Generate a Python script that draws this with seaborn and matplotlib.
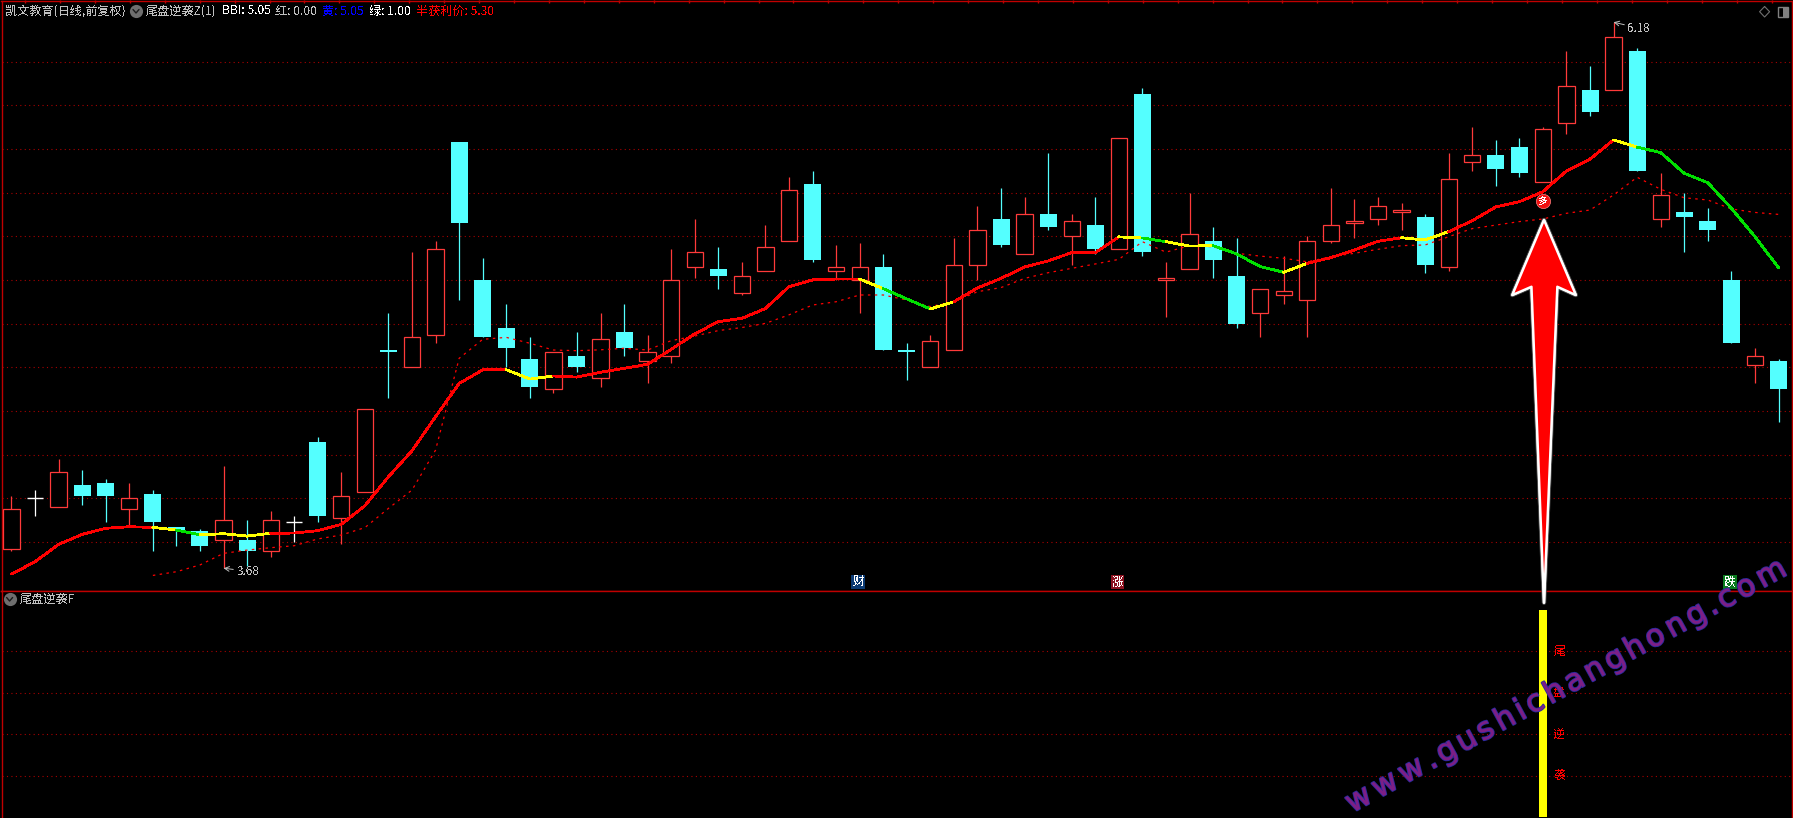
import numpy as np
import pandas as pd
import matplotlib
matplotlib.use('Agg')
import matplotlib.pyplot as plt
import matplotlib.patheffects as pe
from matplotlib.font_manager import FontProperties
from matplotlib.textpath import TextPath
import seaborn as sns

# daily prices, one entry per candle
opens = [3.77, 4.00, 3.96, 4.06, 4.07, 3.95, 4.02, 3.87, 3.85, 3.81, 3.81, 3.76, 3.89, 4.26, 3.91, 4.03, 4.68, 4.60, 4.75,
         5.63, 5.00, 4.78, 4.64, 4.50, 4.65, 4.55, 4.76, 4.63, 4.65, 5.06, 5.05, 4.94, 5.04, 5.18, 5.44, 5.04, 5.00, 5.06,
         4.68, 4.60, 4.68, 5.07, 5.28, 5.12, 5.30, 5.20, 5.25, 5.14, 5.85, 5.00, 5.05, 5.18, 5.02, 4.85, 4.93, 4.91, 5.18,
         5.26, 5.28, 5.31, 5.29, 5.06, 5.54, 5.57, 5.61, 5.45, 5.72, 5.87, 5.87, 6.05, 5.28, 5.31, 5.27, 5.00, 4.61, 4.63]
highs = [4.01, 4.04, 4.18, 4.13, 4.09, 4.07, 4.04, 3.87, 3.86, 4.15, 3.90, 3.94, 3.92, 4.28, 4.12, 4.41, 4.85, 5.13, 5.18,
         5.63, 5.10, 4.89, 4.74, 4.67, 4.76, 4.85, 4.89, 4.75, 5.14, 5.28, 5.15, 5.08, 5.25, 5.47, 5.50, 5.16, 5.17, 5.12,
         4.71, 4.75, 5.19, 5.34, 5.42, 5.38, 5.58, 5.30, 5.38, 5.65, 5.88, 5.08, 5.40, 5.24, 5.19, 4.96, 5.11, 5.20, 5.42,
         5.37, 5.38, 5.35, 5.30, 5.58, 5.70, 5.64, 5.65, 5.70, 6.05, 5.98, 6.18, 6.06, 5.49, 5.40, 5.33, 5.04, 4.69, 4.64]
lows = [3.76, 3.92, 3.96, 3.97, 3.89, 3.87, 3.76, 3.78, 3.76, 3.68, 3.69, 3.73, 3.80, 3.89, 3.79, 4.03, 4.46, 4.60, 4.71,
        4.91, 4.74, 4.60, 4.46, 4.48, 4.58, 4.51, 4.65, 4.53, 4.62, 5.01, 4.96, 4.93, 5.04, 5.18, 5.08, 5.00, 4.85, 4.68,
        4.54, 4.60, 4.68, 5.00, 5.15, 5.12, 5.23, 5.07, 5.12, 5.14, 5.11, 4.83, 5.05, 5.01, 4.78, 4.74, 4.89, 4.74, 5.17,
        5.19, 5.25, 5.23, 5.03, 5.04, 5.50, 5.43, 5.47, 5.45, 5.67, 5.75, 5.87, 5.50, 5.24, 5.13, 5.18, 4.71, 4.53, 4.35]
closes = [3.95, 4.00, 4.12, 4.01, 4.01, 4.00, 3.89, 3.85, 3.78, 3.90, 3.76, 3.90, 3.89, 3.92, 4.01, 4.41, 4.67, 4.74, 5.14,
          5.26, 4.74, 4.69, 4.51, 4.67, 4.60, 4.73, 4.69, 4.67, 5.00, 5.13, 5.02, 5.02, 5.15, 5.41, 5.09, 5.06, 5.06, 4.68,
          4.67, 4.72, 5.07, 5.23, 5.16, 5.30, 5.24, 5.27, 5.14, 5.65, 5.13, 5.01, 5.21, 5.09, 4.80, 4.96, 4.95, 5.18, 5.25,
          5.27, 5.34, 5.32, 5.07, 5.46, 5.57, 5.51, 5.49, 5.69, 5.89, 5.77, 6.11, 5.50, 5.39, 5.29, 5.23, 4.71, 4.65, 4.50]

# thick BBI line
bbi = [3.653, 3.710, 3.789, 3.835, 3.863, 3.870, 3.867, 3.855, 3.833, 3.838, 3.827, 3.840, 3.841, 3.852, 3.881, 3.966,
       4.099, 4.218, 4.374, 4.526, 4.588, 4.589, 4.546, 4.560, 4.555, 4.577, 4.595, 4.614, 4.682, 4.753, 4.809, 4.824,
       4.869, 4.969, 5.000, 5.004, 5.004, 4.960, 4.913, 4.867, 4.900, 4.963, 5.007, 5.059, 5.087, 5.125, 5.125, 5.197,
       5.192, 5.175, 5.155, 5.157, 5.119, 5.061, 5.035, 5.076, 5.102, 5.137, 5.177, 5.193, 5.183, 5.221, 5.271, 5.334,
       5.358, 5.404, 5.499, 5.553, 5.641, 5.608, 5.583, 5.488, 5.445, 5.328, 5.198, 5.056]
# colour of each stretch of it, (colour name, number of days)
bbi_runs = [('red', 6), ('yellow', 1), ('green', 1), ('yellow', 3), ('red', 10), ('yellow', 2), ('red', 13), ('yellow', 1),
            ('green', 2), ('yellow', 1), ('red', 7), ('yellow', 1), ('green', 1), ('yellow', 2), ('green', 3), ('yellow', 1),
            ('red', 4), ('yellow', 2), ('red', 7), ('yellow', 1), ('green', 6)]

# thin dotted line, starts on day 6
half_profit = [3.647, 3.664, 3.695, 3.748, 3.763, 3.774, 3.783, 3.814, 3.832, 3.866, 3.954, 4.038, 4.221, 4.641, 4.728,
               4.737, 4.710, 4.679, 4.676, 4.680, 4.687, 4.679, 4.722, 4.743, 4.768, 4.782, 4.801, 4.840, 4.885, 4.900,
               4.931, 4.931, 4.908, 4.878, 4.900, 4.946, 4.965, 5.007, 5.033, 5.053, 5.073, 5.094, 5.175, 5.127, 5.157,
               5.152, 5.122, 5.109, 5.099, 5.083, 5.106, 5.122, 5.140, 5.157, 5.160, 5.198, 5.235, 5.251, 5.267, 5.279,
               5.305, 5.320, 5.389, 5.470, 5.415, 5.376, 5.366, 5.325, 5.309, 5.300]

price_grid = [3.8, 4.0, 4.2, 4.4, 4.6, 4.8, 5.0, 5.2, 5.4, 5.6, 5.8, 6.0]
lower_grid = [1, 2, 3, 4]
signal_day = 65
signal_value = 5
signal_chars = ['尾', '盘', '逆', '袭']
badge_days = [36, 47, 73]
badge_labels = ['财', '涨', '跌']
badge_colors = ['#0b3a73', '#8c1220', '#0a7a1e']

bg = 'black'
border = '#c00000'
grid_red = '#a80000'
up_red = '#ff3a3a'
down_cyan = '#54ffff'
line_colors = {'red': '#ff0000', 'yellow': '#ffff00', 'green': '#00e000'}
grey = '#c0c0c0'

W, H = 1793, 818
sns.set_theme(style='dark', rc={'axes.facecolor': bg, 'figure.facecolor': bg, 'savefig.facecolor': bg})
plt.rcParams['font.family'] = ['Noto Sans CJK SC', 'DejaVu Sans']
plt.rcParams['text.antialiased'] = False

df = pd.DataFrame({'day': np.arange(len(opens)), 'open': opens, 'high': highs, 'low': lows, 'close': closes})
df['top'] = df[['open', 'close']].max(axis=1)
df['bottom'] = df[['open', 'close']].min(axis=1)
df['bar_color'] = np.where(df['close'] > df['open'], up_red, np.where(df['close'] < df['open'], down_cyan, 'white'))

fig = plt.figure(figsize=(W / 100, H / 100), dpi=100)
ax = fig.add_axes([1.5 / W, 1 - 590.5 / H, (1792 - 1.5) / W, (590.5 - 1) / H])
low = fig.add_axes([1.5 / W, 0, (1792 - 1.5) / W, (H - 590.5) / H])
ov = fig.add_axes([0, 0, 1, 1], facecolor='none')
ov.set_xlim(0, W)
ov.set_ylim(H, 0)
ov.axis('off')

step = 23.56
for a in (ax, low):
    a.set_xlim((1.5 - 11.5) / step, (1792 - 11.5) / step)
    a.tick_params(left=False, bottom=False, labelleft=False, labelbottom=False)
    a.set_axisbelow(True)
    a.set_xticks([])
    for s in a.spines.values():
        s.set_color(border)
        s.set_linewidth(1.0)
    a.spines['bottom'].set_visible(a is ax)

ax.set_ylim(3.578, 6.277)
ax.set_yticks(price_grid)
low.set_ylim(-0.024, 5.459)
low.set_yticks(lower_grid)
for a in (ax, low):
    a.grid(axis='y', color=grid_red, linestyle=(0, (1, 3)), linewidth=0.8)

## candles
###################################################
ax.vlines(df['day'], df['low'], df['high'], colors=df['bar_color'], linewidth=0.9, zorder=2)
flat = df['top'] == df['bottom']
ax.hlines(df.loc[flat, 'top'], df.loc[flat, 'day'] - 0.35, df.loc[flat, 'day'] + 0.35, colors='white', linewidth=1.0, zorder=3)
solid = df[df['close'] < df['open']]
hollow = df[df['close'] > df['open']]
ax.bar(solid['day'], solid['top'] - solid['bottom'], bottom=solid['bottom'], width=0.72, color=down_cyan, linewidth=0, zorder=3)
ax.bar(hollow['day'], hollow['top'] - hollow['bottom'], bottom=hollow['bottom'], width=0.69, facecolor=bg,
       edgecolor=up_red, linewidth=0.9, zorder=3)

## lines
###################################################
dotted = pd.DataFrame({'day': np.arange(6, 6 + len(half_profit)), 'v': half_profit})
sns.lineplot(data=dotted, x='day', y='v', color='#ff0000', linewidth=0.9, linestyle=(0, (2, 3.5)), errorbar=None, ax=ax, zorder=4)

start = 0
for name, n in bbi_runs:
    run = pd.DataFrame({'day': np.arange(start, start + n + 1), 'v': bbi[start:start + n + 1]})
    sns.lineplot(data=run, x='day', y='v', color=line_colors[name], linewidth=1.3, errorbar=None, antialiased=False, ax=ax, zorder=5)
    start += n
ax.set(xlabel='', ylabel='')

## marks on the main panel
###################################################
ax.annotate('3.68', xy=(9, 3.68), xytext=(13, -3), textcoords='offset pixels', color=grey, fontsize=8.4, va='center',
            arrowprops=dict(arrowstyle='->', color=grey, linewidth=0.7, shrinkA=0, shrinkB=0), zorder=6)
ax.annotate('6.18', xy=(68, 6.18), xytext=(14, -6), textcoords='offset pixels', color=grey, fontsize=8.4, va='center',
            arrowprops=dict(arrowstyle='->', color=grey, linewidth=0.7, shrinkA=0, shrinkB=0), zorder=6)
for d, t, c in zip(badge_days, badge_labels, badge_colors):
    ax.text(d - 0.06, 3.617, t, color='white', fontsize=8.6, ha='center', va='center', zorder=6,
            bbox=dict(boxstyle='square,pad=0.08', facecolor=c, edgecolor='none'))
sns.scatterplot(x=[signal_day], y=[5.361], s=105, color='#f01010', edgecolor='#ff8080', linewidth=0.5, ax=ax, zorder=6)
ax.text(signal_day, 5.361, '多', color='white', fontsize=7, ha='center', va='center', zorder=7)

## lower panel
###################################################
low.bar([signal_day], [signal_value], width=0.31, color='#ffff00', linewidth=0, zorder=3)
for v, t in zip([4, 3, 2, 1], signal_chars):
    low.text(signal_day + 0.7, v, t, color='#ff0000', fontsize=8.6, ha='center', va='center', zorder=4)

## header and overlay
###################################################
fs = 8.7
head = [(4.6, '凯文教育(日线,前复权)', grey), (146, '尾盘逆袭Z(1)', grey), (222, 'BBI: 5.05', 'white'), (275, '红: 0.00', grey),
        (322, '黄: 5.05', '#0000ff'), (369, '绿: 1.00', 'white'), (416, '半获利价: 5.30', '#ff0000')]
for x, t, c in head:
    ov.text(x, 11, t, color=c, fontsize=fs, va='center', ha='left')
ov.text(20, 599, '尾盘逆袭F', color=grey, fontsize=fs, va='center', ha='left')
for cx, cy in [(136, 11), (9.6, 599)]:
    ov.scatter([cx], [cy], s=90, color='#6e6e6e', linewidth=0)
    ov.plot([cx - 3, cx, cx + 3], [cy - 1.5, cy + 2, cy - 1.5], color='#1c1c1c', lw=1)

# ruler ticks along the top edge
ov.vlines(np.arange(25, 1790, 34.93), 0, 3, color=border, lw=1)

# small icons, top right
ov.plot([1764.6, 1769.6, 1764.6, 1759.6, 1764.6], [6.5, 11.7, 17, 11.7, 6.5], color='#707070', lw=0.8)
ov.add_patch(plt.Rectangle((1778, 7), 10, 10, facecolor='none', edgecolor='#808080', lw=1))
ov.add_patch(plt.Rectangle((1783, 7), 5, 10, facecolor='#808080', edgecolor='none'))

# big arrow
arrow_x = [1544, 1575.8, 1557.3, 1544, 1531.5, 1512.3]
arrow_y = [220, 295, 286.7, 602.7, 286.7, 295]
ov.fill(arrow_x, arrow_y, facecolor='#ff0000', edgecolor='white', linewidth=1.7, joinstyle='round', zorder=8,
        path_effects=[pe.withStroke(linewidth=3.2, foreground='#505050'), pe.Normal()])

# watermark, spaced out letter by letter
mark_px = 30.5
angle = 28.7
fp = FontProperties(family='DejaVu Sans')
px, py = 1352.0, 813.0
for ch in 'www.gushichanghong.com':
    ov.text(px, py, ch, rotation=angle, rotation_mode='anchor', ha='left', va='baseline', fontsize=mark_px * 0.72,
            family=['DejaVu Sans'], color='#7d1f86', antialiased=True, zorder=9,
            path_effects=[pe.withStroke(linewidth=1.5, foreground='#2d2a9e'), pe.Normal()])
    adv = TextPath((0, 0), ch, size=mark_px, prop=fp).get_extents().x1 + 6.4
    px += adv * np.cos(np.radians(angle))
    py -= adv * np.sin(np.radians(angle))

fig.savefig('out.png', dpi=100, facecolor=bg)
